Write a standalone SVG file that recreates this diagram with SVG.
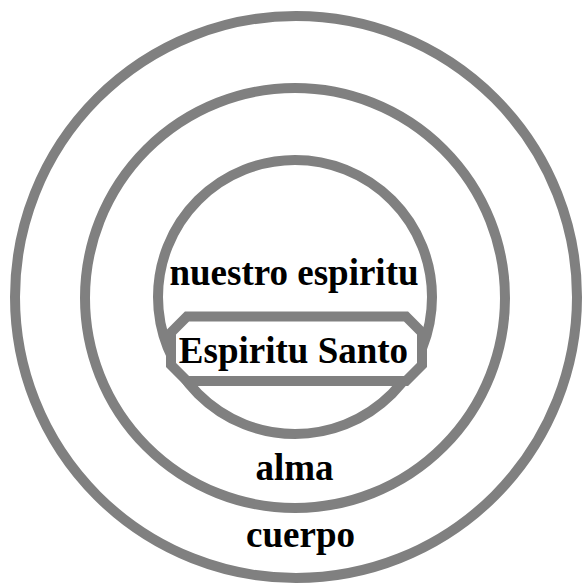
<svg xmlns="http://www.w3.org/2000/svg" width="584" height="583" viewBox="0 0 584 583">
<style>
.ring{fill:none;stroke:#808080;stroke-width:10}
.lbl{font-family:"Liberation Serif","Times New Roman",serif;font-weight:bold;font-size:37px;fill:#000;text-anchor:middle}
</style>
<rect width="584" height="583" fill="#fff"/>
<g id="cuerpo">
<circle class="ring" cx="296" cy="297" r="281"/>
<text class="lbl" x="300.5" y="547">cuerpo</text>
</g>
<g id="alma">
<circle class="ring" cx="295" cy="298" r="210"/>
<text class="lbl" x="294.5" y="480">alma</text>
</g>
<g id="nuestro-espiritu">
<circle class="ring" cx="295" cy="297" r="137"/>
<text class="lbl" x="294" y="285">nuestro espiritu</text>
</g>
<g id="espiritu-santo">
<polygon fill="#fff" stroke="#808080" stroke-width="10" points="187,316.5 406,316.5 422,332.5 422,365 406,381 187,381 171,365 171,332.5"/>
<text class="lbl" x="293.5" y="363">Espiritu Santo</text>
</g>
<g id="connectors"/>
</svg>
